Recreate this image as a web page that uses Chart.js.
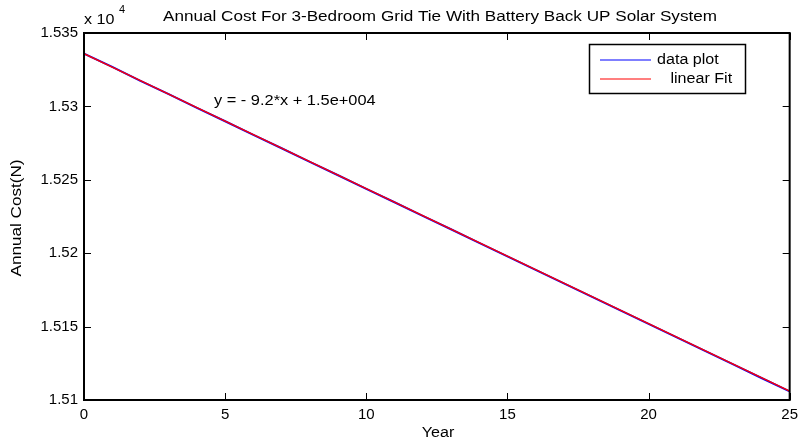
<!DOCTYPE html>
<html><head><meta charset="utf-8">
<script src="https://cdn.jsdelivr.net/npm/chart.js@4/dist/chart.umd.min.js"></script>
<style>html,body{margin:0;padding:0;background:#fff}#wrap{width:804px;height:445px;position:relative}</style>
</head><body><div id="wrap"><canvas id="c" width="804" height="445"></canvas></div>
<script>
const years = [0,1,2,3,4,5,6,7,8,9,10,11,12,13,14,15,16,17,18,19,20,21,22,23,24,25];
const dataPlot = [15336.0,15326.9,15317.4,15308.3,15299.0,15289.9,15280.6,15271.5,15262.2,15253.1,15243.8,15234.7,15225.4,15216.3,15207.0,15197.9,15188.6,15179.5,15170.2,15161.1,15151.8,15142.7,15133.4,15124.3,15115.0,15105.9];
const linearFit = [15336.0,15326.8,15317.6,15308.4,15299.2,15290.0,15280.8,15271.6,15262.4,15253.2,15244.0,15234.8,15225.6,15216.4,15207.2,15198.0,15188.8,15179.6,15170.4,15161.2,15152.0,15142.8,15133.6,15124.4,15115.2,15106.0];
const xTicks = [0,5,10,15,20,25];
const yTicks = [15100,15150,15200,15250,15300,15350];
const titleText = "Annual Cost For 3-Bedroom Grid Tie With Battery Back UP Solar System";
const xLabel = "Year";
const yLabel = "Annual Cost(N)";
const fitEquation = "y = - 9.2*x + 1.5e+004";
const legendLabels = ["data plot","   linear Fit"];

const FONT = "Arial, 'Liberation Sans', sans-serif";
function txt(ctx, s, x, y, align, sx, rot){
  ctx.save();
  ctx.translate(x, y); if(rot) ctx.rotate(rot); ctx.scale(sx, 1);
  ctx.textAlign = align; ctx.textBaseline = 'middle';
  ctx.fillText(s, 0, 0);
  ctx.restore();
}
const deco = {
  id:'deco',
  afterDraw(chart){
    const ctx = chart.ctx, a = chart.chartArea;
    const xs = chart.scales.x, ys = chart.scales.y;
    ctx.save();
    ctx.strokeStyle = '#000';
    ctx.lineWidth = 2;
    ctx.strokeRect(a.left, a.top, a.right-a.left, a.bottom-a.top);
    ctx.lineWidth = 1;
    ctx.beginPath();
    xTicks.forEach(v=>{const p=Math.round(xs.getPixelForValue(v))+0.5;
      ctx.moveTo(p,a.bottom); ctx.lineTo(p,a.bottom-7);
      ctx.moveTo(p,a.top); ctx.lineTo(p,a.top+7);});
    yTicks.forEach(v=>{const p=Math.round(ys.getPixelForValue(v))+0.5;
      ctx.moveTo(a.left,p); ctx.lineTo(a.left+7,p);
      ctx.moveTo(a.right,p); ctx.lineTo(a.right-7,p);});
    ctx.stroke();
    ctx.fillStyle = '#000';
    ctx.font = '14px ' + FONT;
    const tw = ctx.measureText(titleText).width;
    txt(ctx, titleText, 440, 17, 'center', 554/tw);
    txt(ctx, xLabel, 438, 433, 'center', 1.15);
    const yw = ctx.measureText(yLabel).width;
    txt(ctx, yLabel, 17, 218, 'center', 117/yw, -Math.PI/2);
    txt(ctx, 'x 10', 84, 20, 'left', 1.15);
    ctx.font = '10px ' + FONT;
    txt(ctx, '4', 119, 10, 'left', 1.1);
    ctx.font = '14px ' + FONT;
    txt(ctx, fitEquation, 214, 101, 'left', 1.17);
    // legend
    ctx.strokeStyle = '#000';
    ctx.lineWidth = 1.5;
    ctx.strokeRect(589.5, 44.5, 156, 49);
    const cols = ['rgb(0,0,255)','rgb(255,0,0)'];
    [60,79].forEach((yy,i)=>{
      ctx.strokeStyle = cols[i];
      ctx.lineWidth = 1.2;
      ctx.beginPath(); ctx.moveTo(600,yy); ctx.lineTo(651,yy); ctx.stroke();
      ctx.fillStyle='#000';
      txt(ctx, legendLabels[i], 657, yy, 'left', 1.15);
    });
    ctx.restore();
  }
};

new Chart(document.getElementById('c'), {
  type:'line',
  data:{ labels: years, datasets:[
    {label:'data plot', data: years.map((x,i)=>({x, y:dataPlot[i]})), borderColor:'rgb(0,0,255)', borderWidth:2, pointRadius:0, tension:0, order:1},
    {label:'linear Fit', data: years.map((x,i)=>({x, y:linearFit[i]})), borderColor:'rgb(255,0,0)', borderWidth:1.5, pointRadius:0, tension:0, order:0}
  ]},
  options:{
    responsive:false, animation:false, devicePixelRatio:1,
    layout:{padding:{top:33, right:11, left:0, bottom:0}},
    plugins:{legend:{display:false}, tooltip:{enabled:false}, title:{display:false}},
    scales:{
      x:{type:'linear', min:0, max:25, border:{display:false},
         grid:{display:false, drawTicks:false},
         afterBuildTicks:(s)=>{s.ticks = xTicks.map(v=>({value:v}));},
         ticks:{font:{size:15, family:FONT}, color:'#000', padding:6, maxRotation:0},
         afterFit:(s)=>{s.height=45;}},
      y:{type:'linear', min:15100, max:15350, border:{display:false},
         grid:{display:false, drawTicks:false},
         afterBuildTicks:(s)=>{s.ticks = yTicks.map(v=>({value:v}));},
         ticks:{font:{size:15, family:FONT}, color:'#000', padding:6,
           callback:(v)=>String(+(v/1e4).toFixed(4))},
         afterFit:(s)=>{s.width=84;}}
    }
  },
  plugins:[deco]
});
</script></body></html>
